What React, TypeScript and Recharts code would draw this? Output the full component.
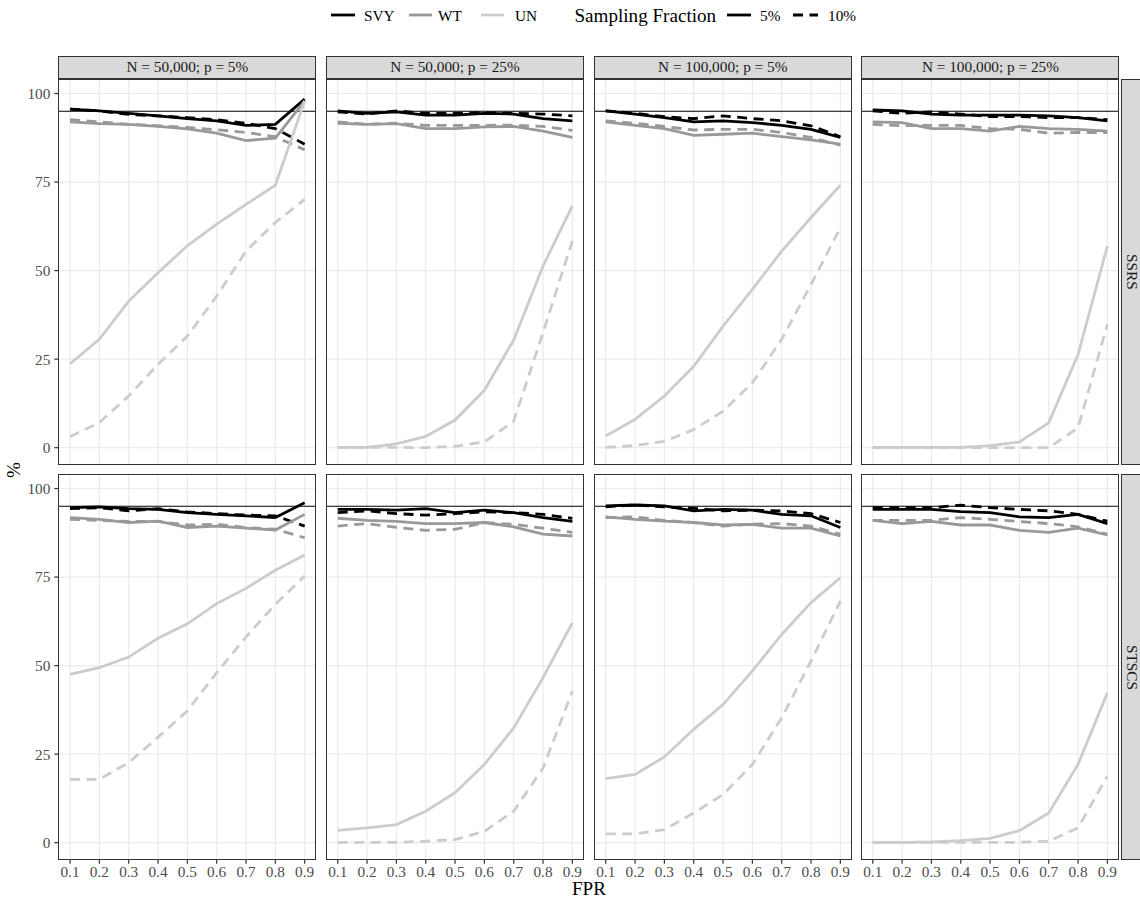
import { LineChart, Line, XAxis, YAxis, CartesianGrid, ReferenceLine } from 'recharts';

const fpr = [0.1, 0.2, 0.3, 0.4, 0.5, 0.6, 0.7, 0.8, 0.9];
const yTicks = [0, 25, 50, 75, 100];
const colLabels = ['N = 50,000; p = 5%', 'N = 50,000; p = 25%', 'N = 100,000; p = 5%', 'N = 100,000; p = 25%'];
const rowLabels = ['SSRS', 'STSCS'];
const nominal = 95;

// series order in every panel: SVY 5%, SVY 10%, WT 5%, WT 10%, UN 5%, UN 10%
const seriesKeys = ['svy5', 'svy10', 'wt5', 'wt10', 'un5', 'un10'];

const ssrs50k5 = [
  [95.6, 95.1, 94.4, 93.7, 92.9, 92.3, 91.0, 91.3, 98.4],
  [95.6, 95.1, 94.1, 93.7, 93.2, 92.6, 91.6, 90.1, 85.7],
  [92.0, 91.5, 91.3, 90.7, 90.0, 88.8, 86.7, 87.4, 97.9],
  [92.6, 92.0, 91.3, 90.9, 90.4, 89.8, 89.0, 87.8, 84.1],
  [23.7, 30.6, 41.4, 49.4, 57.0, 63.1, 68.7, 74.1, 97.9],
  [3.1, 7.1, 14.6, 23.5, 31.5, 42.8, 55.5, 63.6, 70.1],
];
const ssrs50k25 = [
  [95.1, 94.4, 94.8, 93.9, 93.9, 94.4, 94.2, 92.9, 92.3],
  [94.8, 94.2, 95.1, 94.4, 94.4, 94.6, 94.4, 94.2, 93.7],
  [91.6, 91.3, 91.5, 90.1, 90.1, 90.6, 90.7, 89.4, 87.6],
  [92.0, 91.3, 91.6, 91.0, 91.0, 91.0, 91.1, 90.7, 89.6],
  [0.1, 0.1, 1.1, 3.2, 7.8, 16.2, 30.4, 51.3, 68.3],
  [0.1, 0.1, 0.1, 0.0, 0.4, 1.6, 7.5, 32.5, 58.4],
];
const ssrs100k5 = [
  [95.1, 94.2, 93.2, 92.0, 92.3, 91.8, 91.0, 89.9, 87.6],
  [95.1, 94.4, 93.5, 92.9, 93.7, 92.9, 92.3, 90.9, 87.8],
  [92.0, 91.0, 90.1, 88.2, 88.5, 88.8, 87.8, 86.9, 85.7],
  [92.3, 91.6, 90.7, 89.7, 89.9, 89.9, 89.0, 87.6, 85.4],
  [3.3, 8.0, 14.6, 23.0, 34.3, 44.7, 55.5, 65.0, 74.1],
  [0.1, 0.6, 1.8, 5.1, 10.3, 18.3, 30.6, 46.1, 62.1],
];
const ssrs100k25 = [
  [95.4, 95.1, 94.2, 93.9, 93.9, 93.9, 93.7, 93.2, 92.3],
  [95.1, 94.4, 94.8, 94.2, 93.5, 93.5, 93.2, 93.2, 92.6],
  [92.0, 91.8, 90.1, 90.1, 89.4, 90.7, 90.1, 89.9, 89.4],
  [91.3, 90.9, 91.0, 91.0, 90.1, 89.9, 88.8, 89.0, 89.0],
  [0.1, 0.1, 0.1, 0.1, 0.6, 1.6, 7.0, 26.3, 56.9],
  [0.0, 0.0, 0.0, 0.0, 0.0, 0.0, 0.0, 5.6, 34.8],
];
const stscs50k5 = [
  [94.6, 94.8, 94.3, 94.1, 93.2, 92.7, 92.3, 91.8, 96.0],
  [94.3, 94.6, 93.7, 94.3, 93.4, 92.9, 92.5, 92.3, 89.4],
  [91.8, 91.3, 90.4, 90.8, 89.0, 89.4, 88.8, 88.3, 92.7],
  [91.3, 91.0, 90.7, 90.7, 89.7, 89.9, 89.0, 88.5, 86.1],
  [47.5, 49.4, 52.4, 57.7, 61.8, 67.5, 71.8, 76.9, 81.2],
  [17.9, 17.9, 22.6, 29.8, 37.2, 48.0, 58.1, 67.3, 75.3],
];
const stscs50k25 = [
  [94.1, 94.1, 93.9, 94.3, 93.2, 93.9, 93.2, 91.8, 90.7],
  [93.2, 93.7, 92.9, 92.5, 92.9, 93.4, 93.2, 92.7, 91.6],
  [91.6, 91.0, 90.7, 90.1, 90.1, 90.4, 89.2, 87.1, 86.6],
  [89.4, 90.1, 89.0, 88.2, 88.5, 90.4, 89.9, 88.8, 87.6],
  [3.5, 4.2, 5.1, 8.9, 14.1, 22.1, 32.4, 46.6, 62.1],
  [0.1, 0.1, 0.1, 0.4, 0.9, 3.2, 8.9, 21.1, 42.8],
];
const stscs100k5 = [
  [95.1, 95.4, 95.1, 93.7, 94.1, 93.9, 92.7, 92.3, 89.0],
  [94.8, 95.4, 94.8, 94.4, 93.7, 93.9, 93.7, 92.9, 90.4],
  [92.0, 91.3, 90.8, 90.4, 89.7, 89.9, 88.8, 88.8, 86.6],
  [91.8, 92.0, 91.0, 90.4, 89.4, 89.9, 90.1, 89.4, 87.1],
  [18.1, 19.3, 24.2, 32.0, 39.0, 48.5, 58.8, 67.8, 74.8],
  [2.5, 2.5, 3.7, 8.4, 13.6, 22.1, 35.3, 51.3, 68.2],
];
const stscs100k25 = [
  [94.1, 94.1, 94.1, 93.5, 93.2, 92.0, 91.8, 92.7, 90.1],
  [94.6, 94.6, 94.6, 95.3, 94.6, 94.1, 93.7, 92.7, 90.8],
  [91.0, 90.1, 90.7, 89.7, 89.7, 88.2, 87.6, 88.8, 86.9],
  [91.0, 91.0, 91.0, 91.8, 91.3, 90.7, 90.1, 89.2, 87.1],
  [0.1, 0.1, 0.2, 0.6, 1.2, 3.4, 8.4, 22.1, 42.3],
  [0.1, 0.1, 0.1, 0.1, 0.1, 0.1, 0.4, 4.2, 18.8],
];

const panels = [
  [ssrs50k5, ssrs50k25, ssrs100k5, ssrs100k25],
  [stscs50k5, stscs50k25, stscs100k5, stscs100k25],
];

// layout (ggplot-like facet grid)
const FONT = '"Liberation Serif", "Times New Roman", serif';
const SMALL = 15.3;
const BIG = 19.1;
const X0 = 58.3;
const PW = 258.1;
const GAP = 9.6;
const ROW_Y = [79.3, 474.3];
const PH = 385.7;
const YAXIS_W = 58.3;
const XAXIS_H = 26;
const STRIP = 23.6;
const LW = 2.8;
const DASH = '10 6.5';

const colorOf: Record<string, string> = { svy: '#000000', wt: '#999999', un: '#cccccc' };

function Panel({ r, c }: { r: number; c: number }) {
  const vals = panels[r][c];
  const rows = fpr.map((x, i) => {
    const row: Record<string, number> = { fpr: x };
    seriesKeys.forEach((k, j) => (row[k] = vals[j][i]));
    return row;
  });
  const showY = c === 0;
  const showX = r === 1;
  const left = X0 + c * (PW + GAP) - (showY ? YAXIS_W : 0);
  const w = PW + (showY ? YAXIS_W : 0);
  const h = PH + (showX ? XAXIS_H : 0);
  const tickStyle = { fill: '#4d4d4d', fontSize: SMALL, fontFamily: FONT };

  return (
    <div style={{ position: 'absolute', left, top: ROW_Y[r], width: w, height: h }}>
      <LineChart width={w} height={h} data={rows} margin={{ top: 0, right: 0, bottom: 0, left: 0 }}>
        <CartesianGrid stroke="#ebebeb" strokeWidth={1.2} horizontalValues={yTicks} verticalValues={fpr} />
        <XAxis
          dataKey="fpr"
          type="number"
          domain={[0.06, 0.94]}
          ticks={fpr}
          interval={0}
          allowDataOverflow
          hide={!showX}
          height={XAXIS_H}
          axisLine={false}
          tickSize={4}
          tickMargin={2}
          tickLine={{ stroke: '#333333', strokeWidth: 1.2 }}
          tick={tickStyle}
          tickFormatter={(v: number) => v.toFixed(1)}
        />
        <YAxis
          type="number"
          domain={[-4.8, 104.1]}
          ticks={yTicks}
          interval={0}
          allowDataOverflow
          hide={!showY}
          width={YAXIS_W}
          axisLine={false}
          tickSize={4}
          tickMargin={4}
          tickLine={{ stroke: '#333333', strokeWidth: 1.2 }}
          tick={tickStyle}
        />
        <ReferenceLine y={nominal} stroke="#000000" strokeWidth={1.2} />
        {seriesKeys.map((k) => (
          <Line
            key={k}
            type="linear"
            dataKey={k}
            stroke={colorOf[k.replace(/\d+/, '')]}
            strokeWidth={LW}
            strokeDasharray={k.endsWith('10') ? DASH : undefined}
            dot={false}
            activeDot={false}
            isAnimationActive={false}
          />
        ))}
      </LineChart>
      <div
        style={{
          position: 'absolute',
          left: showY ? YAXIS_W : 0,
          top: 0,
          width: PW,
          height: PH,
          border: '1.3px solid #333333',
          boxSizing: 'border-box',
          pointerEvents: 'none',
        }}
      />
    </div>
  );
}

function Legend() {
  const txt = { fontSize: SMALL, fill: '#000', style: { fontFamily: FONT } };
  return (
    <svg width={1140} height={32} style={{ position: 'absolute', left: 0, top: 0 }}>
      <line x1={331} x2={355} y1={15} y2={15} stroke="#000" strokeWidth={LW} />
      <text x={364} y={15} dominantBaseline="central" {...txt}>SVY</text>
      <line x1={409} x2={432} y1={15} y2={15} stroke="#999999" strokeWidth={LW} />
      <text x={438} y={15} dominantBaseline="central" {...txt}>WT</text>
      <line x1={481} x2={504} y1={15} y2={15} stroke="#cccccc" strokeWidth={LW} />
      <text x={515} y={15} dominantBaseline="central" {...txt}>UN</text>
      <text x={574.5} y={15} dominantBaseline="central" fontSize={BIG} fill="#000" style={{ fontFamily: FONT }}>
        Sampling Fraction
      </text>
      <line x1={727} x2={751} y1={15} y2={15} stroke="#000" strokeWidth={LW} />
      <text x={760} y={15} dominantBaseline="central" {...txt}>5%</text>
      <line x1={793} x2={818} y1={15} y2={15} stroke="#000" strokeWidth={LW} strokeDasharray={DASH} />
      <text x={828} y={15} dominantBaseline="central" {...txt}>10%</text>
    </svg>
  );
}

export default function App() {
  const stripBase = {
    position: 'absolute' as const,
    background: '#d9d9d9',
    border: '1.3px solid #333333',
    boxSizing: 'border-box' as const,
    display: 'flex',
    alignItems: 'center',
    justifyContent: 'center',
    fontFamily: FONT,
    fontSize: SMALL,
    color: '#1a1a1a',
  };
  return (
    <div
      style={{
        position: 'absolute',
        left: 0,
        top: 0,
        width: 1140,
        height: 901,
        overflow: 'hidden',
        background: '#ffffff',
      }}
    >
      <Legend />
      {colLabels.map((lab, c) => (
        <div key={lab} style={{ ...stripBase, left: X0 + c * (PW + GAP), top: ROW_Y[0] - STRIP, width: PW, height: STRIP }}>
          {lab}
        </div>
      ))}
      {rowLabels.map((lab, r) => (
        <div
          key={lab}
          style={{ ...stripBase, left: X0 + 4 * PW + 3 * GAP + 1.2, top: ROW_Y[r], width: STRIP, height: PH }}
        >
          <span style={{ writingMode: 'vertical-rl' }}>{lab}</span>
        </div>
      ))}
      {[0, 1].map((r) => [0, 1, 2, 3].map((c) => <Panel key={`${r}-${c}`} r={r} c={c} />))}
      <div
        style={{
          position: 'absolute',
          left: 14,
          top: (ROW_Y[0] + ROW_Y[1] + PH) / 2,
          transform: 'translate(-50%, -50%) rotate(-90deg)',
          fontFamily: FONT,
          fontSize: BIG,
          lineHeight: 1,
          color: '#000',
          whiteSpace: 'nowrap',
        }}
      >
        %
      </div>
      <div
        style={{
          position: 'absolute',
          left: X0 + (4 * PW + 3 * GAP) / 2,
          top: 889,
          transform: 'translate(-50%, -50%)',
          fontFamily: FONT,
          fontSize: BIG,
          lineHeight: 0.9,
          color: '#000',
          whiteSpace: 'nowrap',
        }}
      >
        FPR
      </div>
    </div>
  );
}
